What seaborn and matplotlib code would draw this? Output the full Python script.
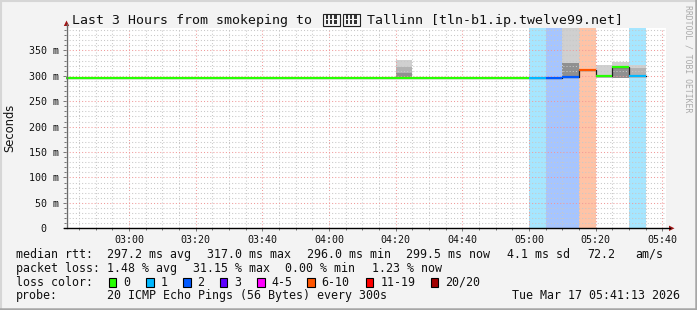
import numpy as np
import pandas as pd
import matplotlib
matplotlib.use("Agg")
import matplotlib.pyplot as plt
import seaborn as sns
from matplotlib.patches import Rectangle, Polygon
from matplotlib.lines import Line2D
from matplotlib.ticker import MultipleLocator, FixedLocator, FuncFormatter

# ---------------- data ----------------
bin_times = ["02:40", "02:45", "02:50", "02:55", "03:00", "03:05", "03:10",
             "03:15", "03:20", "03:25", "03:30", "03:35", "03:40", "03:45",
             "03:50", "03:55", "04:00", "04:05", "04:10", "04:15", "04:20",
             "04:25", "04:30", "04:35", "04:40", "04:45", "04:50", "04:55",
             "05:00", "05:05", "05:10", "05:15", "05:20", "05:25", "05:30"]
median_ms = [296.3, 296.3, 296.3, 296.3, 296.3, 296.3, 296.3,
             296.3, 296.3, 296.3, 296.3, 296.3, 296.3, 296.3,
             296.3, 296.3, 296.3, 296.3, 296.3, 296.3, 296.3,
             296.3, 296.3, 296.3, 296.3, 296.3, 296.3, 296.3,
             296.2, 296.0, 298.0, 311.0, 300.0, 317.0, 299.5]
loss_pings = [0, 0, 0, 0, 0, 0, 0,
              0, 0, 0, 0, 0, 0, 0,
              0, 0, 0, 0, 0, 0, 0,
              0, 0, 0, 0, 0, 0, 0,
              1, 2, 2, 6, 0, 0, 1]

smoke_times = ["04:20", "05:10", "05:20", "05:25", "05:30"]
smoke_outer_lo = [296, 296, 295, 295, 296]
smoke_outer_hi = [331, 400, 322, 328, 322]
smoke_mid_lo = [296, np.nan, np.nan, np.nan, 299]
smoke_mid_hi = [318, np.nan, np.nan, np.nan, 315]
smoke_inner_lo = [296, 297, np.nan, 295, np.nan]
smoke_inner_hi = [306, 326, np.nan, 316, np.nan]

legend_labels = ["0", "1", "2", "3", "4-5", "6-10", "11-19", "20/20"]
legend_colors = ["#26ff00", "#00b8ff", "#0059ff", "#5e00ff", "#ff00fe",
                 "#ff5500", "#ff0000", "#a10000"]

y_ticks = [0, 50, 100, 150, 200, 250, 300, 350]
y_labels = ["0  ", "50 m", "100 m", "150 m", "200 m", "250 m", "300 m", "350 m"]

stats_rows = [
    [(16, "median rtt:"), (107, "297.2 ms avg"), (207, "317.0 ms max"),
     (307, "296.0 ms min"), (406, "299.5 ms now"), (507, "4.1 ms sd"),
     (587, "72.2"), (635, "am/s")],
    [(16, "packet loss:"), (107, "1.48 % avg"), (193, "31.15 % max"),
     (285, "0.00 % min"), (372, "1.23 % now")],
]
probe_text = "20 ICMP Echo Pings (56 Bytes) every 300s"
date_text = "Tue Mar 17 05:41:13 2026"
# The title contains the Estonian flag (two regional-indicator symbols), which no
# installed font has; it is drawn as two "missing glyph" boxes like the reference.
title_part1 = "Last 3 Hours from smokeping to"
title_part2 = "Tallinn [tln-b1.ip.twelve99.net]"

# ---------------- helpers ----------------
def to_min(s):
    h, m = s.split(":")
    return int(h) * 60 + int(m)

def loss_color(n):
    if n == 0:
        return legend_colors[0]
    if n == 1:
        return legend_colors[1]
    if n == 2:
        return legend_colors[2]
    if n == 3:
        return legend_colors[3]
    if n <= 5:
        return legend_colors[4]
    if n <= 10:
        return legend_colors[5]
    if n <= 19:
        return legend_colors[6]
    return legend_colors[7]

STEP = 5
t = np.array([to_min(s) for s in bin_times], dtype=float)
med = np.array(median_ms)
loss = np.array(loss_pings)
st = np.array([to_min(s) for s in smoke_times], dtype=float)

W, H = 697, 310
BG = "#f3f3f3"
MONO = "DejaVu Sans Mono"

fig = plt.figure(figsize=(W / 100, H / 100), dpi=100, facecolor=BG)

def fx(px):
    return px / W

def fy(py):
    return (H - py) / H

left_px, right_px, top_px, bot_px = 66.4, 666.4, 28, 228.3
ax = fig.add_axes([fx(left_px), fy(bot_px), fx(right_px - left_px), (bot_px - top_px) / H])
ax.set_facecolor("white")

x0 = to_min("02:41") + 13 / 60
ax.set_xlim(x0, x0 + 180)
ax.set_ylim(0, 394)

# loss background bands
for ti, li in zip(t, loss):
    if li > 0:
        ax.axvspan(ti, ti + STEP, color=loss_color(li), alpha=0.35, lw=0, zorder=0.5)

# smoke layers
ax.bar(st, np.array(smoke_outer_hi) - np.array(smoke_outer_lo), bottom=smoke_outer_lo,
       width=STEP, align="edge", color="#d0d0d0", lw=0, zorder=1)
ax.bar(st, np.array(smoke_mid_hi) - np.array(smoke_mid_lo), bottom=smoke_mid_lo,
       width=STEP, align="edge", color="#b2b2b2", lw=0, zorder=1.1)
ax.bar(st, np.array(smoke_inner_hi) - np.array(smoke_inner_lo), bottom=smoke_inner_lo,
       width=STEP, align="edge", color="#909090", lw=0, zorder=1.2)

# thin dark step line through medians
step_df = pd.DataFrame({"t": np.append(t, t[-1] + STEP), "ms": np.append(med, med[-1])})
sns.lineplot(data=step_df, x="t", y="ms", drawstyle="steps-post", color="#202020",
             lw=0.9, ax=ax, zorder=3)
# colored median segments
ax.hlines(med, t, t + STEP, colors=[loss_color(l) for l in loss], lw=1.6, zorder=3.5,
          capstyle="butt")

# grid
ax.xaxis.set_major_locator(MultipleLocator(20))
ax.xaxis.set_minor_locator(MultipleLocator(5))
ax.yaxis.set_major_locator(FixedLocator(y_ticks))
ax.yaxis.set_minor_locator(MultipleLocator(10))
ax.set_axisbelow(False)
ax.grid(which="minor", color="#c8c8c8", lw=0.75, ls=(0, (1, 2)), zorder=2)
ax.grid(which="major", color="#f09a9a", lw=0.75, ls=(0, (1, 2)), zorder=2.1)

ax.xaxis.set_major_formatter(FuncFormatter(lambda v, p: f"{int(v // 60):02d}:{int(round(v % 60)):02d}"))
ax.set_yticklabels(y_labels)
ax.tick_params(which="both", direction="out", color="#777777", width=0.7,
               labelsize=7.2, labelcolor="#111111")
ax.tick_params(which="major", length=2.2)
ax.tick_params(which="minor", length=1.5)
ax.tick_params(axis="x", pad=2.3)
ax.tick_params(axis="y", pad=3.0)
for lab in ax.get_xticklabels() + ax.get_yticklabels():
    lab.set_family(MONO)
ax.set_xlabel("")
ax.set_ylabel("")
for s in ax.spines.values():
    s.set_visible(False)

# axis lines and arrows
fig.add_artist(Line2D([fx(66.5), fx(66.5)], [fy(bot_px), fy(24)], color="#6a6a6a", lw=1.0))
fig.add_artist(Line2D([fx(64), fx(670)], [fy(bot_px), fy(bot_px)], color="#000000", lw=1.0))
fig.add_artist(Polygon([[fx(63.8), fy(26)], [fx(69.2), fy(26)], [fx(66.5), fy(20.5)]],
                       closed=True, transform=fig.transFigure, color="#a01515", lw=0))
fig.add_artist(Polygon([[fx(669), fy(225.6)], [fx(669), fy(231)], [fx(674.5), fy(bot_px)]],
                       closed=True, transform=fig.transFigure, color="#a01515", lw=0))

# title (two text parts with the flag drawn as missing-glyph boxes between them)
fig.text(fx(72), fy(24), title_part1, family=MONO, fontsize=9.5,
         color="#111111", ha="left", va="baseline")
fig.text(fx(367), fy(24), title_part2, family=MONO, fontsize=9.5,
         color="#111111", ha="left", va="baseline")
for bx in (322.5, 342.5):
    fig.add_artist(Rectangle((fx(bx), fy(25.5)), fx(17), 12 / H, transform=fig.transFigure,
                             facecolor="none", edgecolor="#222222", lw=0.8))
    for row in range(2):
        for col in range(3):
            fig.add_artist(Rectangle((fx(bx + 3 + col * 4.3), fy(22.8 - row * 0 + (0 if row else -0.0)) if False else fy(23.5 - (1 - row) * 5.0)),
                                     fx(2.6), 3.6 / H, transform=fig.transFigure,
                                     facecolor="#333333", edgecolor="none"))

fig.text(fx(10), fy(127.5), "Seconds", fontsize=8.3, rotation=90, ha="center",
         va="center", color="#111111")
fig.text(fx(688), fy(5), "RRDTOOL / TOBI OETIKER", family=MONO, fontsize=5.9,
         rotation=-90, ha="center", va="top", color="#aaaaaa")

# statistics rows
baselines = [257.7, 271.7, 285.5, 299.3]
for row, b in zip(stats_rows, baselines[:2]):
    for xpx, txt in row:
        fig.text(fx(xpx), fy(b), txt, family=MONO, fontsize=8.4, color="#111111",
                 ha="left", va="baseline")

fig.text(fx(16), fy(baselines[2]), "loss color:", family=MONO, fontsize=8.4,
         color="#111111", ha="left", va="baseline")
box_x = [108.7, 146, 183, 220, 257, 307, 365.7, 430.7]
for bx, lab, col in zip(box_x, legend_labels, legend_colors):
    fig.add_artist(Rectangle((fx(bx), fy(286.5)), fx(7.5), 8.5 / H, transform=fig.transFigure,
                             facecolor=col, edgecolor="#000000", lw=0.8))
    fig.text(fx(bx + 14.5), fy(baselines[2]), lab, family=MONO, fontsize=8.4,
             color="#111111", ha="left", va="baseline")

fig.text(fx(16), fy(baselines[3]), "probe:", family=MONO, fontsize=8.4,
         color="#111111", ha="left", va="baseline")
fig.text(fx(107), fy(baselines[3]), probe_text, family=MONO, fontsize=8.4,
         color="#111111", ha="left", va="baseline")
fig.text(fx(680), fy(baselines[3]), date_text, family=MONO, fontsize=8.4,
         color="#111111", ha="right", va="baseline")

# outer frame (3D-ish border)
fig.add_artist(Line2D([fx(1), fx(1)], [0, 1], color="#d6d6d6", lw=1.5))
fig.add_artist(Line2D([0, 1], [fy(1), fy(1)], color="#d6d6d6", lw=1.5))
fig.add_artist(Line2D([fx(696), fx(696)], [0, 1], color="#a6a6a6", lw=1.8))
fig.add_artist(Line2D([0, 1], [fy(309), fy(309)], color="#a6a6a6", lw=1.8))

fig.savefig("out.png", dpi=100, facecolor=BG)
